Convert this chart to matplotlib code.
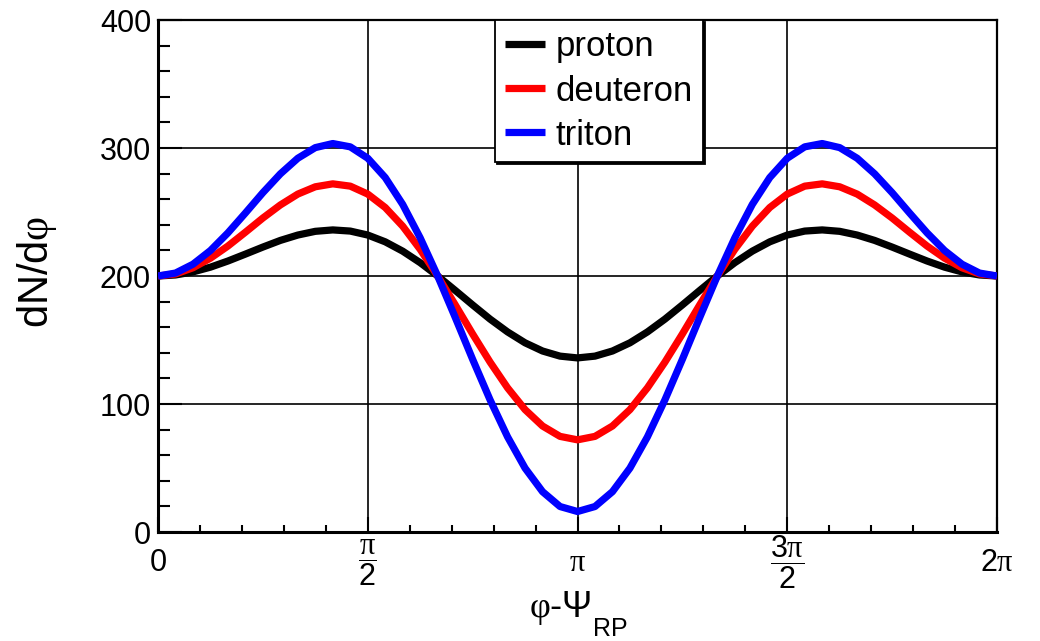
import numpy as np
import matplotlib
matplotlib.use("Agg")
import matplotlib.pyplot as plt
from matplotlib.ticker import MultipleLocator, FixedLocator

plt.rcParams['font.family'] = ['Liberation Sans', 'DejaVu Sans']
plt.rcParams['mathtext.fontset'] = 'custom'
plt.rcParams['mathtext.rm'] = 'Liberation Sans'
plt.rcParams['mathtext.it'] = 'Liberation Serif'

# phi - Psi_RP sampled every pi/24 from 0 to 2pi
phi = np.linspace(0, 2 * np.pi, 49)

proton = [200.0, 200.8, 203.2, 206.9, 211.7, 217.1, 222.6, 227.8, 232.0, 234.9,
          236.0, 235.1, 232.0, 226.7, 219.4, 210.4, 200.0, 188.8, 177.4, 166.3,
          156.3, 147.8, 141.4, 137.4, 136.0, 137.4, 141.4, 147.8, 156.3, 166.3,
          177.4, 188.8, 200.0, 210.4, 219.4, 226.7, 232.0, 235.1, 236.0, 234.9,
          232.0, 227.8, 222.6, 217.1, 211.7, 206.9, 203.2, 200.8, 200.0]
deuteron = [200.0, 201.6, 206.4, 213.9, 223.4, 234.2, 245.3, 255.5, 264.0, 269.7,
            272.0, 270.2, 264.0, 253.5, 238.9, 220.8, 200.0, 177.6, 154.7, 132.7,
            112.6, 95.6, 82.8, 74.7, 72.0, 74.7, 82.8, 95.6, 112.6, 132.7,
            154.7, 177.6, 200.0, 220.8, 238.9, 253.5, 264.0, 270.2, 272.0, 269.7,
            264.0, 255.5, 245.3, 234.2, 223.4, 213.9, 206.4, 201.6, 200.0]
triton = [200.0, 202.3, 209.2, 219.9, 233.7, 249.2, 265.1, 279.8, 292.0, 300.3,
          303.5, 300.9, 292.0, 276.9, 255.9, 229.8, 200.0, 167.8, 134.9, 103.2,
          74.3, 49.9, 31.5, 19.9, 16.0, 19.9, 31.5, 49.9, 74.3, 103.2,
          134.9, 167.8, 200.0, 229.8, 255.9, 276.9, 292.0, 300.9, 303.5, 300.3,
          292.0, 279.8, 265.1, 249.2, 233.7, 219.9, 209.2, 202.3, 200.0]

series = [('proton', proton, 'black'),
          ('deuteron', deuteron, 'red'),
          ('triton', triton, 'blue')]

xtick_pos = [0, np.pi / 2, np.pi, 3 * np.pi / 2, 2 * np.pi]
xtick_lab = ['0', r'$\dfrac{\pi}{2}$', r'$\pi$', r'$\dfrac{3\pi}{2}$', r'$2\pi$']

W, H = 1040, 641
fig = plt.figure(figsize=(W / 100, H / 100), dpi=100)
ax = fig.add_axes([158 / W, 1 - 532 / H, 839 / W, 512 / H])

for name, vals, col in series:
    ax.plot(phi, vals, color=col, lw=5.2, label=name, solid_capstyle='butt',
            solid_joinstyle='round', zorder=3)

ax.set_xlim(0, 2 * np.pi)
ax.set_ylim(0, 400)
ax.yaxis.set_major_locator(MultipleLocator(100))
ax.yaxis.set_minor_locator(MultipleLocator(20))
ax.xaxis.set_major_locator(FixedLocator(xtick_pos))
ax.xaxis.set_minor_locator(MultipleLocator(np.pi / 10))
ax.set_xticklabels(xtick_lab)
ax.grid(True, which='major', color='black', lw=1.2, zorder=1)

ax.tick_params(axis='both', which='both', direction='in', colors='black',
               labelsize=22, width=1.5)
ax.tick_params(axis='y', which='major', length=17, pad=5)
ax.tick_params(axis='y', which='minor', length=8.5)
ax.tick_params(axis='x', which='major', length=11, pad=22)
ax.tick_params(axis='x', which='minor', length=5)
for lab in ax.get_xticklabels():
    lab.set_va('center')

for side in ['left', 'bottom']:
    ax.spines[side].set_linewidth(2.2)
for side in ['top', 'right']:
    ax.spines[side].set_linewidth(1.6)

leg = ax.legend(loc='upper left', bbox_to_anchor=((495 - 158) / 839, 1.0),
                fontsize=25, handlelength=1.15, handletextpad=0.3,
                labelspacing=0.32, borderpad=0.3, borderaxespad=0,
                fancybox=False, framealpha=1, edgecolor='black',
                shadow={'color': 'black', 'alpha': 1, 'ox': 1.2, 'oy': -1.2})
leg.get_frame().set_linewidth(1.3)
leg.set_zorder(5)

fig.text(37 / W, 1 - 272 / H, r'dN/d$\varphi$', rotation=90, fontsize=30,
         ha='center', va='center')
fig.text(591 / W, 1 - 617 / H, r'$\varphi$-$\mathit{\Psi}$', fontsize=26,
         ha='right', va='baseline')
fig.text(593 / W, 1 - 636 / H, 'RP', fontsize=18, ha='left', va='baseline')

fig.savefig('out.png', dpi=100, facecolor='white')
